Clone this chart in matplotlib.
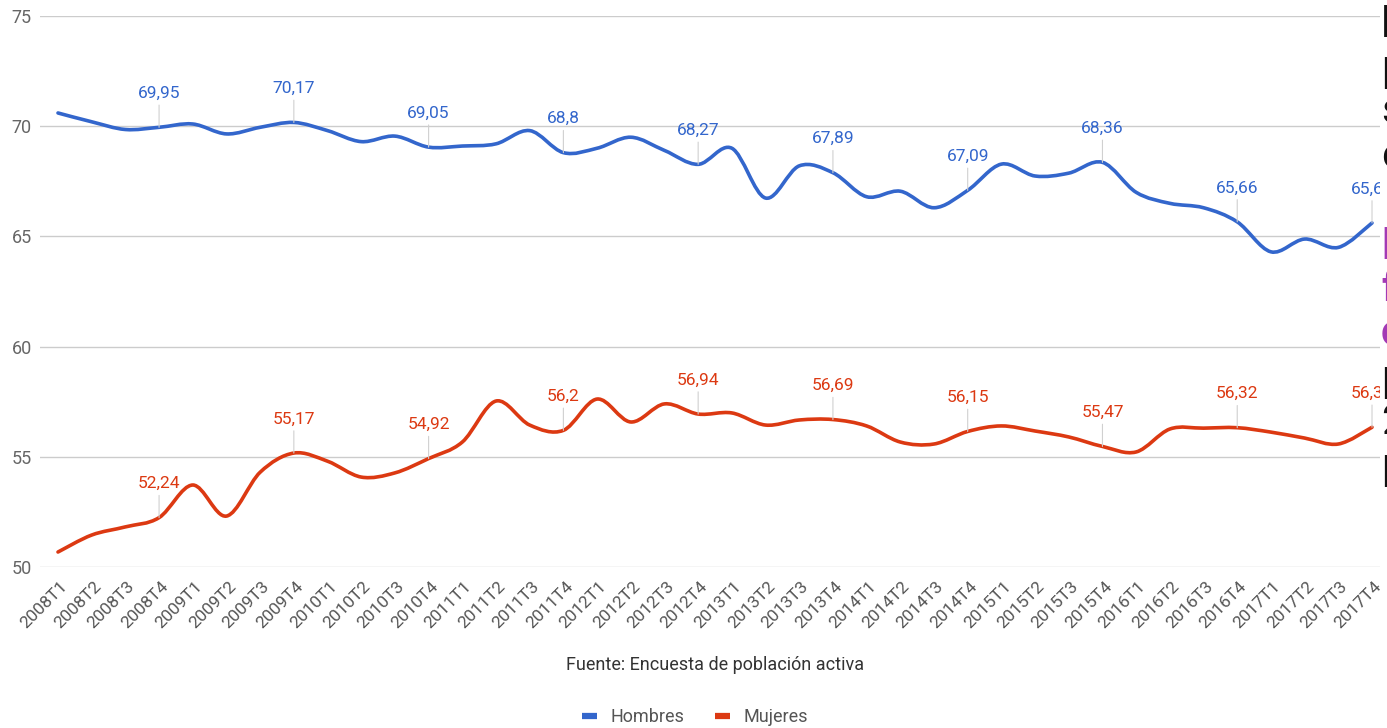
import matplotlib
matplotlib.use("Agg")
import matplotlib.pyplot as plt
import matplotlib.transforms as mtransforms
from matplotlib.path import Path
from matplotlib.patches import PathPatch, Rectangle
from matplotlib.lines import Line2D

plt.rcParams["font.family"] = ["Roboto", "DejaVu Sans"]

# quarters 2008T1 .. 2017T4
quarters = [f"{y}T{q}" for y in range(2008, 2018) for q in range(1, 5)]

hombres = [70.60, 70.20, 69.85, 69.95, 70.10, 69.65, 69.95, 70.17, 69.80, 69.30,
           69.55, 69.05, 69.10, 69.20, 69.80, 68.80, 69.00, 69.50, 68.90, 68.27,
           69.00, 66.74, 68.20, 67.89, 66.80, 67.05, 66.30, 67.09, 68.28, 67.74,
           67.87, 68.36, 67.00, 66.50, 66.30, 65.66, 64.30, 64.88, 64.50, 65.61]

mujeres = [50.68, 51.45, 51.82, 52.24, 53.72, 52.31, 54.30, 55.17, 54.80, 54.08,
           54.27, 54.92, 55.67, 57.53, 56.44, 56.20, 57.62, 56.58, 57.40, 56.94,
           56.99, 56.44, 56.67, 56.69, 56.40, 55.67, 55.58, 56.15, 56.40, 56.17,
           55.90, 55.47, 55.22, 56.26, 56.30, 56.32, 56.12, 55.85, 55.58, 56.34]

series = [("Hombres", hombres, "#3366cc"), ("Mujeres", mujeres, "#dc3912")]
label_every = 4  # annotate each T4

# page text cut off at the right edge of the screenshot (letter, colour, baseline px)
side_letters = [("l", "#111111", 37), ("p", "#111111", 80), ("s", "#111111", 123),
                ("e", "#111111", 168), ("l", "#a23ab5", 259), ("f", "#a23ab5", 301),
                ("c", "#a23ab5", 345), ("p", "#111111", 390), ("2", "#111111", 434),
                ("p", "#111111", 478)]


def smooth_path(xs, ys, t=1 / 6):
    # cubic bezier through the points (like a "function" curve)
    n = len(xs)
    verts = [(xs[0], ys[0])]
    codes = [Path.MOVETO]
    for i in range(n - 1):
        i0, i2, i3 = max(i - 1, 0), i + 1, min(i + 2, n - 1)
        c1 = (xs[i] + t * (xs[i2] - xs[i0]), ys[i] + t * (ys[i2] - ys[i0]))
        c2 = (xs[i2] - t * (xs[i3] - xs[i]), ys[i2] - t * (ys[i3] - ys[i]))
        verts += [c1, c2, (xs[i2], ys[i2])]
        codes += [Path.CURVE4] * 3
    return Path(verts, codes)


W, H = 1387, 728
fig = plt.figure(figsize=(W / 100, H / 100), dpi=100)
ax = fig.add_axes([40 / W, (H - 567) / H, (W - 40) / W, (567 - 16) / H])

x = list(range(len(quarters)))
for name, vals, col in series:
    ax.add_patch(PathPatch(smooth_path(x, vals), fill=False, edgecolor=col,
                           lw=2.6, capstyle="round", joinstyle="round", zorder=3))
    for i in range(label_every - 1, len(vals), label_every):
        txt = f"{vals[i]:.2f}".rstrip("0").rstrip(".").replace(".", ",")
        ax.annotate(txt, (i, vals[i]), xytext=(0, 19), textcoords="offset points",
                    ha="center", va="bottom", color=col, fontsize=12.5,
                    arrowprops=dict(arrowstyle="-", color="#d0d0d0", lw=0.8,
                                    shrinkA=1, shrinkB=0), zorder=4)

ax.set_xlim(-0.534, 39.445)
ax.set_ylim(50, 75)
ax.set_yticks([50, 55, 60, 65, 70, 75])
ax.grid(axis="y", color="#cccccc", lw=1)
ax.set_axisbelow(True)
for s in ax.spines.values():
    s.set_visible(False)
ax.tick_params(length=0, labelsize=13, labelcolor="#666666")
ax.tick_params(axis="y", pad=6)
ax.set_xticks(x)
ax.set_xticklabels(quarters, rotation=45, ha="right", va="center",
                   rotation_mode="anchor", fontsize=12.5, color="#555555")
ax.tick_params(axis="x", pad=12)
shift = mtransforms.ScaledTranslation(7 / 100, 0, fig.dpi_scale_trans)
for lab in ax.get_xticklabels():
    lab.set_transform(lab.get_transform() + shift)

fig.text(715 / W, 1 - 665 / H, "Fuente: Encuesta de población activa",
         ha="center", va="center", fontsize=13, color="#333333")

handles = [Line2D([], [], color=c, lw=4.5, solid_capstyle="butt") for _, _, c in series]
fig.legend(handles, [n for n, _, _ in series], loc="center",
           bbox_to_anchor=(695 / W, 1 - 717 / H), ncol=2, frameon=False,
           fontsize=13, handlelength=0.85, handletextpad=0.75, columnspacing=1.7,
           labelcolor="#555555")

# white panel of the page text on the right
fig.add_artist(Rectangle((1380 / W, 0), 7 / W, 1, transform=fig.transFigure,
                         facecolor="white", edgecolor="none", zorder=10))
for ch, col, base in side_letters:
    fig.text(1381 / W, 1 - base / H, ch, ha="left", va="baseline",
             fontsize=30, color=col, zorder=11,
             fontweight="bold" if col != "#111111" else "normal")

fig.savefig("out.png", dpi=100)
